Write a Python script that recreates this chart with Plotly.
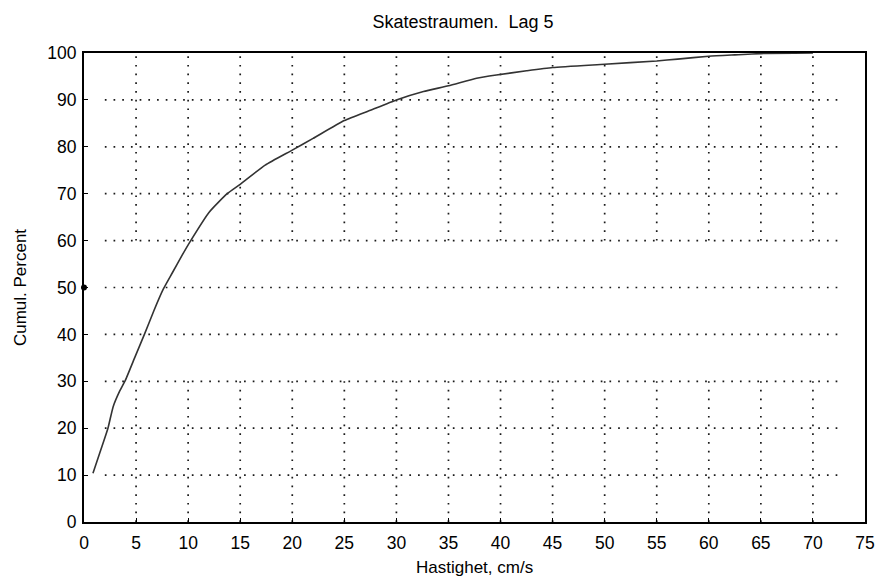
import plotly.graph_objects as go

# Cumulative distribution
speed_cm_s = [0.86, 1.6, 2.3, 2.8, 3.4, 3.97, 4.9, 5.8, 6.7, 7.6, 8.5, 9.4, 10.25, 12.0,
              13.75, 15.0, 17.4, 20.0, 22.0, 25.0, 27.5, 30.0, 32.6, 35.0, 37.7,
              39.6, 42.5, 45.0, 50.0, 55.0, 57.0, 60.0, 62.5, 65.3, 70.0]
cumul_percent = [10.4, 15.3, 20.0, 24.6, 27.8, 30.2, 35.2, 40.0, 45.0, 49.6, 53.2,
                 56.8, 60.0, 66.0, 70.0, 72.0, 76.1, 79.3, 81.8, 85.6, 87.8, 90.0,
                 91.8, 93.0, 94.6, 95.3, 96.2, 96.9, 97.6, 98.3, 98.7, 99.3, 99.6,
                 99.9, 100.0]

# single dot sitting on the y axis
dot_x = [0]
dot_y = [50]

x_ticks = [0, 5, 10, 15, 20, 25, 30, 35, 40, 45, 50, 55, 60, 65, 70, 75]
y_ticks = [0, 10, 20, 30, 40, 50, 60, 70, 80, 90, 100]
grid_x = [5, 10, 15, 20, 25, 30, 35, 40, 45, 50, 55, 60, 65, 70]
grid_y = [10, 20, 30, 40, 50, 60, 70, 80, 90]
vertical_spans = [(0, 30), (60, 100)]
horizontal_span = (2, 73)

title_text = "Skatestraumen.\u00a0\u00a0Lag 5"
x_title = "Hastighet, cm/s"
y_title = "Cumul. Percent"

FONT = "Liberation Sans, Arial, Helvetica, sans-serif"
GRID = dict(color="#1a1a1a", width=1.7, dash="1.7px,7px")

fig = go.Figure()
fig.add_trace(go.Scatter(x=speed_cm_s, y=cumul_percent, mode="lines",
                         line=dict(color="#333333", width=1.6, shape="spline",
                                   smoothing=0.5),
                         showlegend=False, hoverinfo="skip"))
fig.add_trace(go.Scatter(x=dot_x, y=dot_y, mode="markers",
                         marker=dict(color="black", size=6), cliponaxis=False,
                         showlegend=False, hoverinfo="skip"))

shapes = []
for gx in grid_x:
    for (y0, y1) in vertical_spans:
        shapes.append(dict(type="line", xref="x", yref="y", x0=gx, x1=gx, y0=y0, y1=y1,
                           line=GRID, layer="below"))
for gy in grid_y:
    shapes.append(dict(type="line", xref="x", yref="y", x0=horizontal_span[0],
                       x1=horizontal_span[1], y0=gy, y1=gy, line=GRID, layer="below"))

fig.update_layout(
    width=887, height=585,
    margin=dict(l=84, r=15, t=53, b=63),
    paper_bgcolor="white", plot_bgcolor="white",
    font=dict(family=FONT, color="black", size=17),
    shapes=shapes,
    title=dict(text=title_text, x=463 / 887, xref="container", xanchor="center",
               y=1 - 22 / 585, yref="container", yanchor="middle",
               font=dict(size=18, family=FONT, color="black")),
    xaxis=dict(range=[0, 75], tickvals=x_ticks, showgrid=False, zeroline=False,
               showline=True, linecolor="black", linewidth=2, mirror=True,
               ticks="inside", ticklen=4, tickcolor="black", ticklabelstandoff=4,
               tickfont=dict(size=17.5, family=FONT, color="black")),
    yaxis=dict(range=[0, 100], tickvals=y_ticks, showgrid=False, zeroline=False,
               showline=True, linecolor="black", linewidth=2, mirror=True,
               ticks="inside", ticklen=4, tickcolor="black", ticklabelstandoff=2,
               tickfont=dict(size=17.5, family=FONT, color="black")),
    annotations=[
        dict(text=x_title, xref="paper", yref="paper", x=0.5, y=-45 / 469,
             xanchor="center", yanchor="middle", showarrow=False,
             font=dict(size=17, family=FONT, color="black")),
        dict(text=y_title, xref="paper", yref="paper", x=(20 - 84) / 788, y=0.5,
             xanchor="center", yanchor="middle", textangle=-90, showarrow=False,
             font=dict(size=17, family=FONT, color="black")),
    ],
)

fig.write_html("out.html")
